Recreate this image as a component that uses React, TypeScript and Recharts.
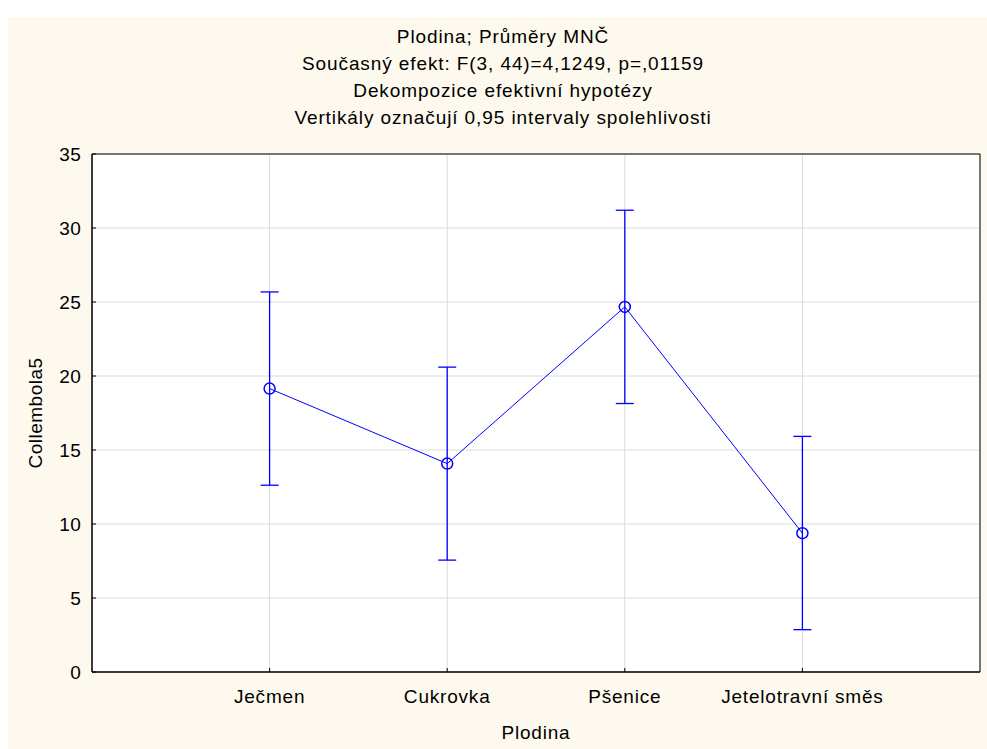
import React from "react";
import {
  ComposedChart,
  Line,
  ErrorBar,
  XAxis,
  YAxis,
  CartesianGrid,
  ReferenceArea,
} from "recharts";

const categories = ["Ječmen", "Cukrovka", "Pšenice", "Jetelotravní směs"];
const positions = [1, 2, 3, 4];
const means = [19.15, 14.08, 24.67, 9.38];
const upper = [25.68, 20.6, 31.2, 15.92];
const lower = [12.62, 7.56, 18.14, 2.86];
const yTicks = [0, 5, 10, 15, 20, 25, 30, 35];

const titleLines = [
  "Plodina; Průměry MNČ",
  "Současný efekt: F(3, 44)=4,1249, p=,01159",
  "Dekompozice efektivní hypotézy",
  "Vertikály označují 0,95 intervaly spolehlivosti",
];

const data = categories.map((name, i) => ({
  name,
  x: positions[i],
  mean: means[i],
  err: [means[i] - lower[i], upper[i] - means[i]],
}));

const font = "'Liberation Sans', Arial, sans-serif";
const blue = "#0000FF";

const App = () => {
  return (
    <div
      style={{
        position: "absolute",
        left: 8,
        top: 17,
        width: 979,
        height: 732,
        background: "#FEF9EE",
        fontFamily: font,
      }}
    >
      <svg
        width={979}
        height={140}
        style={{ position: "absolute", left: 0, top: 0 }}
      >
        {titleLines.map((t, i) => (
          <text
            key={i}
            x={495}
            y={26 + i * 27}
            textAnchor="middle"
            fontSize={19}
            letterSpacing={0.9}
            fill="#000"
            fontFamily={font}
          >
            {t}
          </text>
        ))}
      </svg>
      <ComposedChart
        width={979}
        height={732}
        data={data}
        margin={{ top: 137, right: 7, bottom: 0, left: 0 }}
        style={{ position: "absolute", left: 0, top: 0 }}
      >
        <CartesianGrid stroke="#DCDCDC" fill="#FFFFFF" />
        <XAxis
          dataKey="x"
          type="number"
          domain={[0, 5]}
          ticks={positions}
          tickFormatter={(v) => categories[v - 1]}
          height={77}
          tickSize={-4}
          tickMargin={22}
          axisLine={{ stroke: "#000" }}
          tickLine={{ stroke: "#000" }}
          tick={{ fill: "#000", fontSize: 19, letterSpacing: 0.8, fontFamily: font }}
          interval={0}
          label={{
            value: "Plodina",
            position: "insideBottom",
            offset: 10,
            fill: "#000",
            fontSize: 19,
            letterSpacing: 0.8,
            fontFamily: font,
          }}
        />
        <YAxis
          type="number"
          domain={[0, 35]}
          ticks={yTicks}
          width={84}
          tickSize={-4}
          tickMargin={15}
          axisLine={{ stroke: "#000" }}
          tickLine={{ stroke: "#000" }}
          tick={{ fill: "#000", fontSize: 19, letterSpacing: 0.3, fontFamily: font }}
          interval={0}
          label={{
            value: "Collembola5",
            angle: -90,
            position: "center",
            dx: -15,
            fill: "#000",
            fontSize: 19,
            letterSpacing: 0.5,
            fontFamily: font,
          }}
        />
        <ReferenceArea
          x1={0}
          x2={5}
          y1={0}
          y2={35}
          fill="none"
          stroke="#000"
          strokeWidth={1}
          ifOverflow="visible"
        />
        <Line
          dataKey="mean"
          stroke={blue}
          strokeWidth={1}
          isAnimationActive={false}
          dot={{ r: 5.5, stroke: blue, strokeWidth: 1.5, fill: "none" }}
          activeDot={false}
        >
          <ErrorBar
            dataKey="err"
            direction="y"
            width={9}
            stroke={blue}
            strokeWidth={1.3}
            isAnimationActive={false}
          />
        </Line>
      </ComposedChart>
    </div>
  );
};

export default App;
